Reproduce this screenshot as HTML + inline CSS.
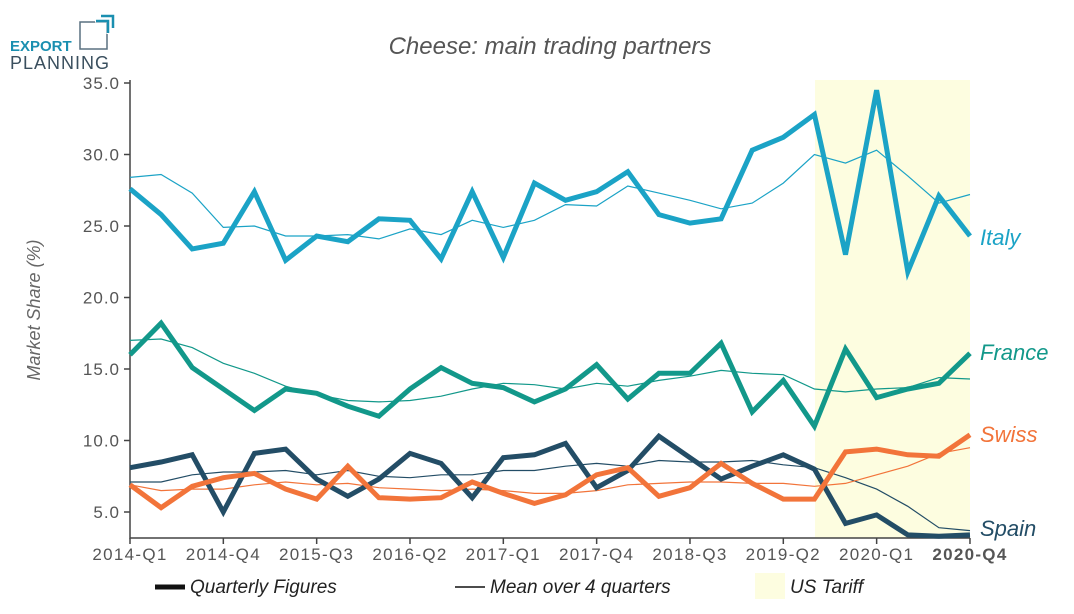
<!DOCTYPE html>
<html><head><meta charset="utf-8"><style>
body{margin:0;background:#fff;}
svg{font-family:"Liberation Sans",sans-serif;}
</style></head><body>
<svg id="s" width="1074" height="609" xmlns="http://www.w3.org/2000/svg">
<rect x="815" y="80" width="155" height="458" fill="#fdfde0"/>
<text x="550" y="54" text-anchor="middle" font-size="24" font-style="italic" fill="#555">Cheese: main trading partners</text>
<text x="10" y="51" font-size="15" font-weight="bold" fill="#1a8fb0">EXPORT</text>
<text x="10" y="69" font-size="18" fill="#3a4f5e" letter-spacing="1">PLANNING</text>
<rect x="80" y="22" width="27" height="27" fill="none" stroke="#5a7080" stroke-width="1.5"/>
<path d="M95 20 H109 V34" fill="none" stroke="#fff" stroke-width="5"/>
<path d="M96 21 H108 V33 M101 16 H113 V28" fill="none" stroke="#1a8fb0" stroke-width="2.5"/>
<text transform="translate(40,310) rotate(-90)" text-anchor="middle" font-size="18" font-style="italic" fill="#666">Market Share (%)</text>
<g id="axes" stroke="#444" stroke-width="1.5" fill="none">
<path d="M130 80 V538 H970"/>
</g>
<g id="g"></g>
<g font-size="19" fill="#555" font-style="italic">
<line x1="155" y1="587" x2="185" y2="587" stroke="#111" stroke-width="5"/>
<text x="190" y="593" fill="#222">Quarterly Figures</text>
<line x1="455" y1="587" x2="485" y2="587" stroke="#111" stroke-width="1.5"/>
<text x="490" y="593" fill="#222">Mean over 4 quarters</text>
<rect x="755" y="573" width="30" height="26" fill="#fdfde0"/>
<text x="790" y="593" fill="#222">US Tariff</text>
</g>
<g font-size="22" font-style="italic">
<text x="980" y="245" fill="#1ba3c6">Italy</text>
<text x="980" y="360" fill="#12988a">France</text>
<text x="980" y="442" fill="#f2743a">Swiss</text>
<text x="980" y="536" fill="#234d66">Spain</text>
</g>
</svg>
<script>
var X=i=>130+31.11*i, Y=v=>83+(35-v)*14.3;
var S=[
["#1ba3c6",[27.6,25.8,23.4,23.8,27.4,22.6,24.3,23.9,25.5,25.4,22.7,27.4,22.8,28.0,26.8,27.4,28.8,25.8,25.2,25.5,30.3,31.2,32.8,23.0,34.5,21.8,27.1,24.3],
[28.4,28.6,27.3,24.9,25.0,24.3,24.3,24.4,24.1,24.8,24.4,25.4,24.9,25.4,26.5,26.4,27.8,27.3,26.8,26.2,26.6,28.0,30.0,29.4,30.3,28.5,26.6,27.2]],
["#12988a",[16.0,18.2,15.1,13.6,12.1,13.6,13.3,12.4,11.7,13.6,15.1,14.0,13.7,12.7,13.6,15.3,12.9,14.7,14.7,16.8,12.0,14.2,11.0,16.4,13.0,13.6,14.0,16.1],
[17.0,17.1,16.5,15.4,14.7,13.8,13.2,12.8,12.7,12.8,13.1,13.6,14.0,13.9,13.6,14.0,13.8,14.2,14.5,14.9,14.7,14.6,13.6,13.4,13.6,13.7,14.4,14.3]],
["#234d66",[8.1,8.5,9.0,5.0,9.1,9.4,7.3,6.1,7.3,9.1,8.4,6.0,8.8,9.0,9.8,6.7,7.9,10.3,8.8,7.3,8.2,9.0,8.0,4.2,4.8,3.4,3.3,3.4],
[7.1,7.1,7.6,7.8,7.8,7.9,7.6,7.9,7.5,7.4,7.6,7.6,7.9,7.9,8.2,8.4,8.2,8.6,8.5,8.5,8.6,8.3,8.1,7.4,6.6,5.4,3.9,3.7]],
["#f2743a",[6.9,5.3,6.8,7.4,7.7,6.6,5.9,8.2,6.0,5.9,6.0,7.1,6.3,5.6,6.2,7.6,8.1,6.1,6.7,8.4,7.0,5.9,5.9,9.2,9.4,9.0,8.9,10.4],
[6.9,6.5,6.6,6.6,6.9,7.1,6.9,7.0,6.7,6.6,6.5,6.6,6.5,6.3,6.3,6.5,6.9,7.0,7.1,7.1,7.0,7.0,6.8,7.0,7.6,8.2,9.1,9.5]]];
var h='';
var p=a=>a.map((v,i)=>X(i).toFixed(1)+','+Y(v).toFixed(1)).join(' ');
S.forEach(s=>{h+='<polyline points="'+p(s[2])+'" fill="none" stroke="'+s[0]+'" stroke-width="1.2"/>';});
S.forEach(s=>{h+='<polyline points="'+p(s[1])+'" fill="none" stroke="'+s[0]+'" stroke-width="5" stroke-linejoin="miter"/>';});
[35,30,25,20,15,10,5].forEach(v=>{var y=Y(v);
 h+='<line x1="124" x2="130" y1="'+y+'" y2="'+y+'" stroke="#444" stroke-width="1.5"/><text x="120" y="'+(y+6)+'" text-anchor="end" font-size="17" letter-spacing="1" fill="#555">'+v.toFixed(1)+'</text>';});
var L=['2014-Q1','2014-Q4','2015-Q3','2016-Q2','2017-Q1','2017-Q4','2018-Q3','2019-Q2','2020-Q1','2020-Q4'];
[0,3,6,9,12,15,18,21,24,27].forEach((i,k)=>{var x=X(i);
 h+='<line x1="'+x+'" x2="'+x+'" y1="538" y2="544" stroke="#444" stroke-width="1.5"/><text x="'+x+'" y="560" text-anchor="middle" font-size="17" letter-spacing="1.3" fill="#555"'+(k==9?' font-weight="bold"':'')+'>'+L[k]+'</text>';});
document.getElementById('g').innerHTML=h;
</script>
</body></html>
